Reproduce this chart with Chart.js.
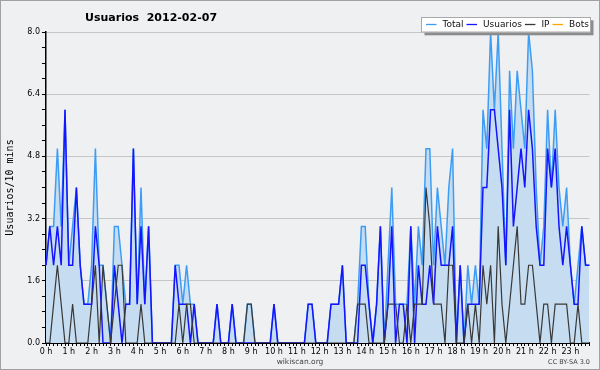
<!DOCTYPE html>
<html><head><meta charset="utf-8">
<script src="https://cdn.jsdelivr.net/npm/chart.js@4.4.1/dist/chart.umd.min.js"></script>
<style>html,body{margin:0;padding:0;background:#eff0f2;}</style>
</head><body>
<canvas id="c" width="600" height="370"></canvas>
<script>
const chartTitle = 'Usuarios  2012-02-07';
const yAxisTitle = 'Usuarios/10 mins';
const hourTickLabels = ['0 h','1 h','2 h','3 h','4 h','5 h','6 h','7 h','8 h','9 h','10 h','11 h','12 h','13 h','14 h','15 h','16 h','17 h','18 h','19 h','20 h','21 h','22 h','23 h'];
const yTickLabels = ['0.0','1.6','3.2','4.8','6.4','8.0'];
const seriesNames = ['Total','Usuarios','IP','Bots'];

// 10-minute slots of the day
const slotLabels = [];
for (let h = 0; h < 24; h++) for (let m = 0; m < 60; m += 10) slotLabels.push(h + ':' + (m < 10 ? '0' + m : m));

const totalValues = [
  2,3,3,5,3,6,2,3,4,2,1,1,
  2,5,2,2,1,0,3,3,2,1,1,5,
  1,4,1,3,0,0,0,0,0,0,2,2,
  1,2,1,1,0,0,0,0,0,1,0,0,
  0,1,0,0,0,1,1,0,0,0,0,0,
  1,0,0,0,0,0,0,0,0,1,1,0,
  0,0,0,1,1,1,2,0,0,0,1,3,
  3,1,0,1,3,0,2,4,1,1,1,1,
  3,1,3,2,5,5,2,4,3,2,4,5,
  0,2,0,2,1,2,1,6,5,8,6,8,
  5,2,7,5,7,6,5,8,7,4,2,3,
  6,4,6,4,3,4,2,1,2,3,2,2
];
const userValues = [
  2,3,2,3,2,6,2,2,4,2,1,1,
  1,3,2,0,0,0,2,1,0,1,1,5,
  1,3,1,3,0,0,0,0,0,0,2,1,
  1,1,0,1,0,0,0,0,0,1,0,0,
  0,1,0,0,0,0,0,0,0,0,0,0,
  1,0,0,0,0,0,0,0,0,1,1,0,
  0,0,0,1,1,1,2,0,0,0,0,2,
  2,1,0,1,3,0,1,3,0,1,1,0,
  3,0,2,1,1,2,1,3,2,2,2,3,
  0,2,0,1,1,1,1,4,4,6,6,5,
  4,2,6,3,4,5,4,6,5,3,2,2,
  5,4,5,3,2,3,2,1,1,3,2,2
];
const ipValues = [
  0,0,1,2,1,0,0,1,0,0,0,0,
  1,2,0,2,1,0,1,2,2,0,0,0,
  0,1,0,0,0,0,0,0,0,0,0,1,
  0,1,1,0,0,0,0,0,0,0,0,0,
  0,0,0,0,0,1,1,0,0,0,0,0,
  0,0,0,0,0,0,0,0,0,0,0,0,
  0,0,0,0,0,0,0,0,0,0,1,1,
  1,0,0,0,0,0,1,1,1,0,0,1,
  0,1,1,1,4,3,1,1,1,0,2,2,
  0,0,0,1,0,1,0,2,1,2,0,3,
  1,0,1,2,3,1,1,2,2,1,0,1,
  1,0,1,1,1,1,0,0,1,0,0,0
];
const botValues = [
  0,0,0,0,0,0,0,0,0,0,0,0,
  0,0,0,0,0,0,0,0,0,0,0,0,
  0,0,0,0,0,0,0,0,0,0,0,0,
  0,0,0,0,0,0,0,0,0,0,0,0,
  0,0,0,0,0,0,0,0,0,0,0,0,
  0,0,0,0,0,0,0,0,0,0,0,0,
  0,0,0,0,0,0,0,0,0,0,0,0,
  0,0,0,0,0,0,0,0,0,0,0,0,
  0,0,0,0,0,0,0,0,0,0,0,0,
  0,0,0,0,0,0,0,0,0,0,0,0,
  0,0,0,0,0,0,0,0,0,0,0,0,
  0,0,0,0,0,0,0,0,0,0,0,0
];

const BG = '#eff0f2';
const decor = {
  id: 'decor',
  beforeDraw(chart) {
    const c = chart.ctx;
    c.save();
    c.fillStyle = BG;
    c.fillRect(0, 0, chart.width, chart.height);
    c.restore();
  },
  afterDraw(chart) {
    const c = chart.ctx;
    c.save();
    // title
    c.fillStyle = '#000';
    c.font = 'bold 11px "DejaVu Sans"';
    c.textAlign = 'left';
    c.textBaseline = 'alphabetic';
    c.fillText(chartTitle, 85, 20.5);
    // footer
    c.fillStyle = '#444';
    c.font = '7.5px "DejaVu Sans"';
    c.textAlign = 'center';
    c.textBaseline = 'middle';
    c.fillText('wikiscan.org', 300, 362);
    c.font = '6.5px "DejaVu Sans"';
    c.textAlign = 'right';
    c.fillText('CC BY-SA 3.0', 590, 362);
    // legend box with shadow
    c.fillStyle = '#8c8c8c';
    c.fillRect(424.5, 20.3, 169, 15);
    c.fillStyle = '#ffffff';
    c.fillRect(421.5, 17.3, 169, 15);
    c.strokeStyle = '#a8a8a8';
    c.lineWidth = 1;
    c.strokeRect(421.5, 17.5, 169, 14.5);
    c.font = '9px "DejaVu Sans"';
    c.textAlign = 'left';
    c.textBaseline = 'middle';
    let x = 426;
    chart.data.datasets.forEach(ds => {
      c.strokeStyle = ds.borderColor;
      c.lineWidth = 1.3;
      c.beginPath();
      c.moveTo(x, 24.5);
      c.lineTo(x + 10.5, 24.5);
      c.stroke();
      c.fillStyle = '#111';
      c.fillText(ds.label, x + 16.5, 25);
      x += 16.5 + c.measureText(ds.label).width + 3;
    });
    // outer border
    c.strokeStyle = '#a0a0a0';
    c.lineWidth = 1;
    c.strokeRect(0.5, 0.5, chart.width - 1, chart.height - 1);
    c.restore();
  }
};

new Chart(document.getElementById('c'), {
  type: 'line',
  data: {
    labels: slotLabels,
    datasets: [
      { label: seriesNames[0], data: totalValues, borderColor: '#3d9df5', backgroundColor: '#c6dcf0', borderWidth: 1.5, fill: 'origin', order: 4 },
      { label: seriesNames[1], data: userValues, borderColor: '#1414ff', backgroundColor: '#1414ff', borderWidth: 1.5, fill: false, order: 2 },
      { label: seriesNames[2], data: ipValues, borderColor: '#383838', backgroundColor: '#383838', borderWidth: 1.2, fill: false, order: 1 },
      { label: seriesNames[3], data: botValues, borderColor: '#ffa500', backgroundColor: '#ffa500', borderWidth: 1, fill: false, order: 5, clip: 0 }
    ]
  },
  options: {
    responsive: false,
    animation: false,
    devicePixelRatio: 1,
    layout: { padding: { top: 32, right: 10.6, bottom: 0, left: 0 } },
    plugins: { legend: { display: false }, title: { display: false }, tooltip: { enabled: false } },
    elements: { point: { radius: 0 }, line: { tension: 0 } },
    scales: {
      x: {
        type: 'category',
        offset: false,
        z: 1,
        grid: { drawOnChartArea: false, drawTicks: true, tickLength: 3, tickColor: '#000', lineWidth: 1 },
        border: { display: true, color: '#000', width: 2 },
        ticks: {
          autoSkip: false, maxRotation: 0, minRotation: 0, padding: 1,
          font: { family: 'DejaVu Sans', size: 8 }, color: '#000',
          callback: (v, i) => (i % 6 === 0 ? hourTickLabels[i / 6] : '')
        },
        afterFit: s => { s.height = 27; }
      },
      y: {
        min: 0, max: 8, z: 1,
        ticks: {
          stepSize: 0.4, autoSkip: false, padding: 2,
          font: { family: 'DejaVu Sans', size: 8 }, color: '#000',
          callback: v => {
            const k = Math.round(v / 1.6);
            return Math.abs(v - k * 1.6) < 1e-6 ? yTickLabels[k] : '';
          }
        },
        grid: {
          color: ctx => {
            if (!ctx.tick) return 'rgba(0,0,0,0)';
            const v = ctx.tick.value, k = Math.round(v / 1.6);
            return (Math.abs(v - k * 1.6) < 1e-6 && v > 0) ? '#c6c6c6' : 'rgba(0,0,0,0)';
          },
          tickColor: '#000', tickLength: 4, drawTicks: true, lineWidth: 1
        },
        border: { color: '#000', width: 1.5 },
        title: { display: true, text: yAxisTitle, font: { family: 'DejaVu Sans Mono', size: 10 }, color: '#000', padding: { top: 4, bottom: 0 } },
        afterFit: s => { s.width = 46; }
      }
    }
  },
  plugins: [decor]
});
</script>
</body></html>
